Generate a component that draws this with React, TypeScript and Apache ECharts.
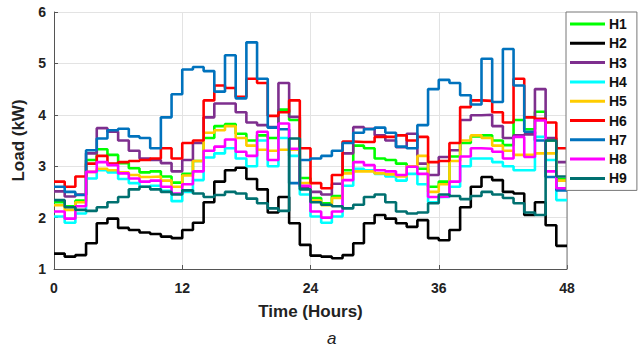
import React, { useEffect, useRef } from "react";
import * as echarts from "echarts";

const names = ["H1", "H2", "H3", "H4", "H5", "H6", "H7", "H8", "H9"];
const colors = ["#00ff00", "#000000", "#7e2f8e", "#00ffff", "#ffcc00", "#ff0000", "#0072bd", "#ff00ff", "#007070"];
const xTicks = [0, 12, 24, 36, 48];

const H1 = [2.30,2.22,2.33,3.12,3.33,3.22,3.06,2.96,2.88,2.90,2.80,2.68, 2.85,3.10,3.55,3.78,3.82,3.63,3.50,3.60,3.55,4.10,3.90,2.77, 2.38,2.28,2.42,2.92,3.40,3.35,3.15,3.12,3.05,3.00,2.95,2.60, 2.70,3.19,3.45,3.58,3.60,3.50,3.41,3.90,3.72,4.06,3.50,2.75];
const H2 = [1.30,1.24,1.27,1.50,1.89,1.98,1.80,1.76,1.71,1.68,1.63,1.60, 1.76,1.90,2.30,2.70,2.92,2.97,2.75,2.55,2.10,2.40,1.89,1.47, 1.26,1.24,1.21,1.27,1.50,1.89,2.05,1.98,1.89,1.82,1.95,1.60, 1.56,1.76,2.20,2.60,2.79,2.73,2.50,2.47,2.05,2.30,1.85,1.45];
const H3 = [2.51,2.41,2.45,3.25,3.74,3.67,3.50,3.30,3.15,3.12,3.06,2.90, 3.12,3.45,3.95,4.22,4.22,4.05,3.85,3.80,3.76,4.62,3.96,2.60, 2.50,2.45,2.66,3.25,3.76,3.73,3.60,3.50,3.37,3.63,3.05,2.83, 3.18,3.31,3.90,3.99,4.00,3.78,3.55,3.60,3.62,4.50,3.55,3.08];
const H4 = [2.02,1.90,2.08,2.76,2.92,2.88,2.75,2.67,2.60,2.62,2.52,2.32, 2.50,2.73,3.17,3.25,3.35,3.15,3.00,3.50,3.00,3.55,3.20,2.45, 2.02,1.90,2.02,2.62,2.95,2.92,2.85,2.80,2.72,2.85,2.65,2.30, 2.40,2.60,3.00,3.15,3.15,3.08,3.00,2.92,2.92,3.57,3.12,2.34];
const H5 = [2.24,2.15,2.30,2.89,2.95,2.92,2.88,2.83,2.79,2.80,2.72,2.60, 2.82,3.10,3.65,3.70,3.78,3.55,3.40,3.32,3.30,3.32,3.32,2.67, 2.33,2.24,2.38,2.86,2.90,2.90,2.86,2.84,2.80,3.00,3.20,2.50, 2.65,3.10,3.50,3.60,3.55,3.40,3.30,3.22,3.22,3.25,3.25,2.72];
const H6 = [2.70,2.60,2.80,3.05,3.20,3.05,3.08,3.10,3.12,3.15,3.35,3.15, 3.45,3.50,4.28,4.57,4.52,4.35,4.70,4.62,3.98,4.05,4.28,3.35, 2.67,2.57,2.83,3.48,3.47,3.47,3.57,3.57,3.60,3.50,3.57,3.08, 3.10,3.45,4.15,4.28,4.27,4.05,3.85,4.70,3.95,3.92,3.85,3.35];
const H7 = [2.60,2.50,2.44,3.31,3.54,3.70,3.73,3.58,3.55,3.35,3.95,4.40, 4.88,4.93,4.85,4.45,5.16,4.32,5.41,4.70,3.75,3.72,2.67,3.12, 3.15,3.20,3.30,3.45,3.65,3.72,3.75,3.65,3.38,3.35,3.80,4.50, 4.68,4.62,4.38,4.20,5.09,4.25,5.28,4.57,3.67,3.50,2.79,2.53];
const H8 = [2.12,1.98,2.22,2.89,3.08,3.02,2.86,2.76,2.70,2.72,2.60,2.47, 2.65,2.90,3.30,3.38,3.52,3.28,3.20,3.67,3.12,3.83,3.34,2.62, 2.12,2.00,2.12,2.73,3.08,3.02,2.92,2.90,2.83,2.99,2.85,2.40, 2.41,2.70,3.19,3.35,3.34,3.28,3.15,3.57,3.18,3.89,2.90,2.57];
const H9 = [2.34,2.20,2.15,2.13,2.20,2.30,2.40,2.55,2.60,2.55,2.50,2.45, 2.53,2.47,2.40,2.44,2.50,2.47,2.37,2.28,2.18,2.13,3.54,2.55, 2.30,2.25,2.22,2.18,2.25,2.40,2.45,2.30,2.12,2.08,2.10,2.28, 2.45,2.42,2.36,2.42,2.50,2.45,2.38,2.28,2.10,2.05,3.50,2.80];

const seriesValues = [H1, H2, H3, H4, H5, H6, H7, H8, H9];

const FONT = "'Liberation Sans', Arial, Helvetica, sans-serif";

export default function App() {
  const ref = useRef<HTMLDivElement>(null);
  useEffect(() => {
    if (!ref.current) return;
    const chart = echarts.init(ref.current, null, { renderer: "svg" });
    const series = seriesValues.map((vals, si) => ({
      name: names[si],
      type: "line",
      step: "end",
      symbol: "none",
      data: vals.map((v, i) => [i, v]).concat([[48, vals[vals.length - 1]]]),
      lineStyle: { width: 2.6, color: colors[si] },
      itemStyle: { color: colors[si] },
      z: 2 + si * 0.01,
    }));
    chart.setOption({
      animation: false,
      backgroundColor: "#ffffff",
      grid: { left: 54, right: 73, top: 12, bottom: 82, containLabel: false },
      xAxis: {
        type: "value",
        min: 0,
        max: 48,
        interval: 12,
        name: "Time (Hours)",
        nameLocation: "middle",
        nameGap: 34,
        nameTextStyle: { fontFamily: FONT, fontWeight: "bold", fontSize: 17, color: "#222" },
        axisLine: { show: true, lineStyle: { color: "#555", width: 1 } },
        axisTick: { show: true, inside: true, length: 4, lineStyle: { color: "#555" } },
        axisLabel: {
          fontFamily: FONT, fontWeight: "bold", fontSize: 14, color: "#222", margin: 12,
          formatter: (v: number) => (xTicks.includes(v) ? String(v) : ""),
        },
        splitLine: { show: true, lineStyle: { color: "#e3e3e3", width: 1 } },
      },
      yAxis: {
        type: "value",
        min: 1,
        max: 6,
        interval: 1,
        name: "Load (kW)",
        nameLocation: "middle",
        nameGap: 24,
        nameTextStyle: { fontFamily: FONT, fontWeight: "bold", fontSize: 17, color: "#222" },
        axisLine: { show: true, lineStyle: { color: "#555", width: 1 } },
        axisTick: { show: true, inside: true, length: 4, lineStyle: { color: "#555" } },
        axisLabel: { fontFamily: FONT, fontWeight: "bold", fontSize: 14, color: "#222", margin: 8 },
        splitLine: { show: true, lineStyle: { color: "#e3e3e3", width: 1 } },
      },
      legend: {
        orient: "vertical",
        left: 566,
        top: 12,
        data: names.map((n) => ({ name: n, icon: "rect" })),
        itemWidth: 35,
        itemHeight: 3,
        itemGap: 5.3,
        padding: [5, 10, 5, 4],
        backgroundColor: "#ffffff",
        borderColor: "#777",
        borderWidth: 1,
        textStyle: { fontFamily: FONT, fontWeight: "bold", fontSize: 14, color: "#111", lineHeight: 14, padding: [0, 0, 0, -1] },
      },
      graphic: [
        {
          type: "line",
          shape: { x1: 567, y1: 12, x2: 567, y2: 269 },
          style: { stroke: "#777", lineWidth: 1 },
          z: 1,
        },
        {
          type: "text",
          left: 327,
          top: 330,
          style: { text: "a", font: `italic 17px ${FONT}`, fill: "#222" },
        },
      ],
      series,
    });
    return () => chart.dispose();
  }, []);
  return <div ref={ref} style={{ position: "fixed", left: 0, top: 0, width: 640, height: 351 }} />;
}
